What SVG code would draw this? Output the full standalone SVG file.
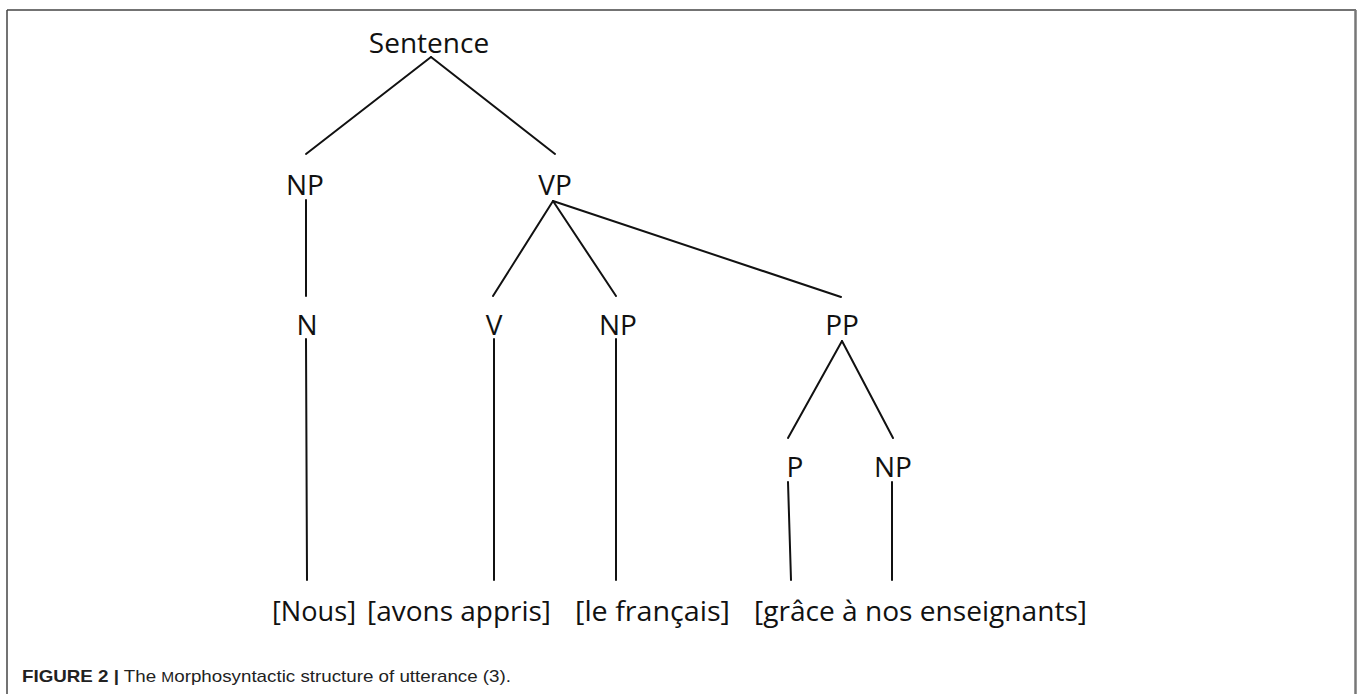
<svg xmlns="http://www.w3.org/2000/svg" width="1360" height="694" viewBox="0 0 1360 694">
<style>
.lbl{font-family:"Open Sans","Liberation Sans",sans-serif;font-size:28px;fill:#111;text-anchor:middle}
.leaf{font-family:"Open Sans","Liberation Sans",sans-serif;font-size:28px;fill:#111}
.edge{stroke:#111;stroke-width:2;fill:none;stroke-linecap:round}
.cap{font-family:"Liberation Sans",Arial,sans-serif;font-size:17px;fill:#222}
</style>
<rect width="1360" height="694" fill="#fff"/>
<g id="frame">
<line x1="7" y1="10" x2="1356" y2="10" stroke="#444" stroke-width="1.5"/>
<line x1="7" y1="10" x2="7" y2="694" stroke="#444" stroke-width="1.5"/>
<line x1="1355.5" y1="10" x2="1355.5" y2="694" stroke="#777" stroke-width="2.5"/>
</g>
<g id="connectors">
<line class="edge" x1="431" y1="57" x2="306" y2="154"/>
<line class="edge" x1="431" y1="57" x2="555" y2="154"/>
<line class="edge" x1="306" y1="200" x2="306" y2="296"/>
<line class="edge" x1="553" y1="201" x2="493" y2="296"/>
<line class="edge" x1="553" y1="201" x2="616" y2="296"/>
<line class="edge" x1="553" y1="201" x2="841" y2="297"/>
<line class="edge" x1="306" y1="339" x2="307" y2="580"/>
<line class="edge" x1="494" y1="339" x2="494" y2="580"/>
<line class="edge" x1="616" y1="339" x2="616" y2="580"/>
<line class="edge" x1="842" y1="341" x2="788" y2="438"/>
<line class="edge" x1="842" y1="341" x2="893" y2="438"/>
<line class="edge" x1="788" y1="482" x2="791" y2="580"/>
<line class="edge" x1="892" y1="482" x2="892" y2="580"/>
</g>
<g id="n-sentence"><text class="lbl" x="429" y="53">Sentence</text></g>
<g id="n-np1"><text class="lbl" x="305" y="195">NP</text></g>
<g id="n-vp"><text class="lbl" x="555" y="195">VP</text></g>
<g id="n-n"><text class="lbl" x="307" y="335">N</text></g>
<g id="n-v"><text class="lbl" x="494" y="335">V</text></g>
<g id="n-np2"><text class="lbl" x="618" y="335">NP</text></g>
<g id="n-pp"><text class="lbl" x="842" y="335">PP</text></g>
<g id="n-p"><text class="lbl" x="795" y="477">P</text></g>
<g id="n-np3"><text class="lbl" x="893" y="477">NP</text></g>
<g id="leaf-nous"><text class="leaf" x="272" y="621" textLength="84" lengthAdjust="spacingAndGlyphs">[Nous]</text></g>
<g id="leaf-avons"><text class="leaf" x="367" y="621" textLength="184" lengthAdjust="spacingAndGlyphs">[avons appris]</text></g>
<g id="leaf-francais"><text class="leaf" x="575" y="621" textLength="155" lengthAdjust="spacingAndGlyphs">[le français]</text></g>
<g id="leaf-grace"><text class="leaf" x="754" y="621" textLength="333" lengthAdjust="spacingAndGlyphs">[grâce à nos enseignants]</text></g>
<g id="caption"><text class="cap" x="22" y="682" textLength="489" lengthAdjust="spacingAndGlyphs"><tspan font-weight="bold">FIGURE 2 |</tspan> The <tspan font-size="14px">M</tspan>orphosyntactic structure of utterance (3).</text></g>
</svg>
